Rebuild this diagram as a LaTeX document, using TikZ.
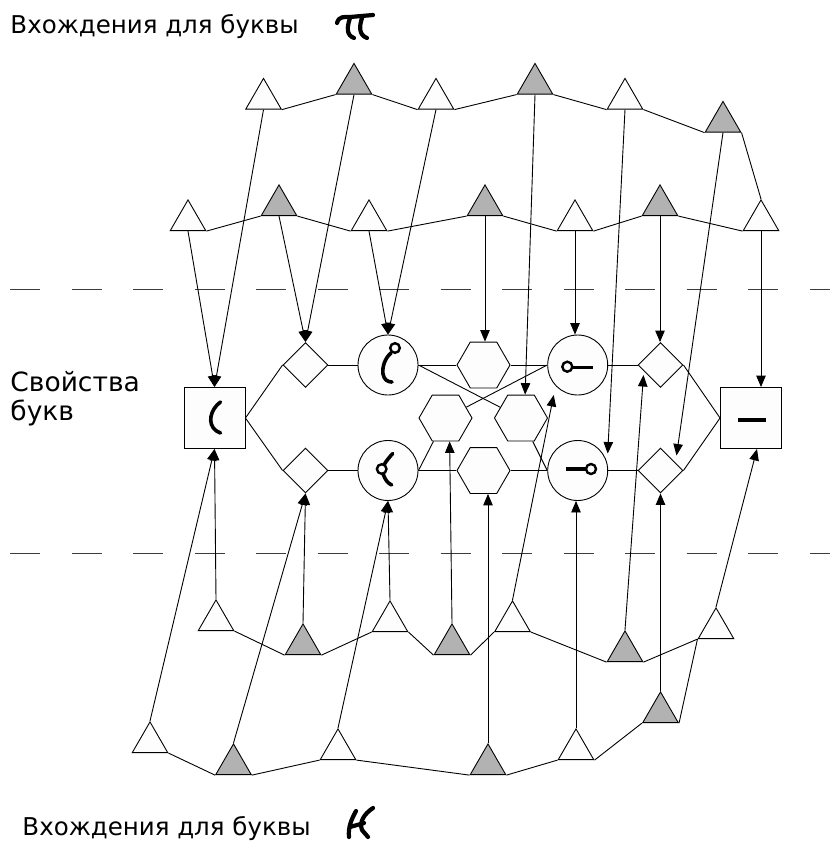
\documentclass[tikz,border=0pt]{standalone}
\usepackage{fontspec}
\setmainfont{DejaVu Sans}
\usetikzlibrary{shapes.geometric,arrows.meta,calc}
\definecolor{trigray}{RGB}{178,178,178}
\definecolor{paper}{RGB}{253,253,253}
\definecolor{dashgray}{RGB}{60,60,60}
\begin{document}
\begin{tikzpicture}[x=1pt,y=-1pt,line width=0.9pt,
  tri/.style={regular polygon,regular polygon sides=3,minimum size=41pt,inner sep=0pt,draw,anchor=corner 1},
  wtri/.style={tri,fill=paper},
  gtri/.style={tri,fill=trigray},
  sq/.style={rectangle,draw,fill=paper,minimum size=61pt,inner sep=0pt},
  dia/.style={diamond,draw,fill=paper,minimum width=45pt,minimum height=45pt,inner sep=0pt},
  circ/.style={circle,draw,fill=paper,minimum size=60pt,inner sep=0pt},
  hex/.style={regular polygon,regular polygon sides=6,draw,fill=paper,minimum size=53pt,inner sep=0pt},
  arr/.style={-{Triangle[length=11.5pt,width=9.5pt]}},
  sep/.style={draw=dashgray,line width=0.9pt,dash pattern=on 30pt off 31.5pt},
  ink/.style={line width=3.6pt,line cap=round,line join=round},
  ring/.style={line width=2.4pt,fill=paper},
  lbl/.style={inner sep=0pt,font=\fontsize{24.5}{28}\selectfont},
  side/.style={inner sep=0pt,font=\fontsize{26.5}{30}\selectfont}
]
\useasboundingbox (0,0) rectangle (830,841);

% layer separators
\coordinate (sepTL) at (10,289); \coordinate (sepTR) at (830,289);
\coordinate (sepBL) at (10,553); \coordinate (sepBR) at (830,553);
\draw[sep] (sepTL) -- (sepTR);
\draw[sep] (sepBL) -- (sepBR);

% captions
\node[lbl,anchor=base west] (topttl) at (10,33) {Вхождения для буквы};
\node[lbl,anchor=base west] (botttl) at (22,835) {Вхождения для буквы};
\node[side,anchor=base west] (prop1) at (10,391) {Свойства};
\node[side,anchor=base west] (prop2) at (10,420) {букв};

% handwritten letter samples next to the captions
\draw[ink,line width=4.2pt] (337,23) .. controls (339,16) and (344,17) .. (350,17) -- (373,15);
\draw[ink,line width=4.2pt] (350,18) .. controls (347,27) and (346,35) .. (354,38);
\draw[ink,line width=4.2pt] (362,18) .. controls (359,27) and (359,35) .. (367,38);
\draw[ink,line width=4.2pt] (356,811) .. controls (351,820) and (348,828) .. (349,837);
\draw[ink,line width=4.2pt] (350,827) -- (364,823);
\draw[ink,line width=4.2pt] (373,808) .. controls (364,814) and (359,822) .. (362,830) -- (368,837);

% property nodes
\node[sq] (lsq) at (214.5,418) {};
\node[sq] (rsq) at (751,418) {};
\node[dia] (uld) at (305.5,365) {};
\node[dia] (lld) at (305.5,470.5) {};
\node[dia] (urd) at (660.5,365) {};
\node[dia] (lrd) at (660.5,470.5) {};
\node[circ] (ulc) at (388,365) {};
\node[circ] (llc) at (388,470.5) {};
\node[circ] (urc) at (577.7,365) {};
\node[circ] (lrc) at (577.7,470.5) {};
\node[hex] (uh) at (483.5,365) {};
\node[hex] (lh) at (483.5,470.5) {};
\node[hex] (mlh) at (445.5,418) {};
\node[hex] (mrh) at (521,418) {};

% stroke pictograms inside the property nodes
\begin{scope}[shift={(lsq.center)}]
  \draw[ink] (6,-16) .. controls (-4,-9) and (-8,6) .. (2,13) -- (6,15);
\end{scope}
\begin{scope}[shift={(rsq.center)}]
  \draw[ink,line width=4pt,line cap=butt] (-13,2) -- (15,2);
\end{scope}
\begin{scope}[shift={(ulc.center)}]
  \draw[ink] (3,-12) .. controls (-3,-7) and (-6,2) .. (-5,9) .. controls (-4,15) and (0,17) .. (4,17);
  \draw[ring] (7,-17) circle[radius=4.8pt];
\end{scope}
\begin{scope}[shift={(llc.center)}]
  \draw[ink] (4.7,-17) .. controls (1,-13) and (-2,-9) .. (-3.5,-6.5);
  \draw[ink] (-4.7,4) .. controls (-3,9) and (0,13) .. (3.7,14.5);
  \draw[ring] (-6.3,-1.5) circle[radius=4.8pt];
\end{scope}
\begin{scope}[shift={(urc.center)}]
  \draw[ink,line cap=butt] (-5,2.3) -- (15,2.3);
  \draw[ring] (-10.4,1.7) circle[radius=5pt];
\end{scope}
\begin{scope}[shift={(lrc.center)}]
  \draw[ink,line cap=butt] (-12,-1.5) -- (8,-1.5);
  \draw[ring] (13.3,-1.5) circle[radius=5pt];
\end{scope}

% links between property nodes
\draw (lsq.east) -- (uld.west);
\draw (lsq.east) -- (lld.west);
\draw (uld.east) -- (ulc.west);
\draw[line width=1.5pt] (lld.east) -- (llc.west);
\draw (ulc.east) -- (uh.west);
\draw (llc.east) -- (lh.west);
\draw (uh.east) -- (urc.west);
\draw (lh.east) -- (lrc.west);
\draw (urc.east) -- (urd.west);
\draw (lrc.east) -- (lrd.west);
\draw (urd.east) -- (rsq.west);
\draw (lrd.east) -- (rsq.west);
\draw (ulc.east) -- (mrh);
\draw (mlh) -- (urc.west);
\draw (mlh) -- (llc.east);
\draw (mrh) -- (lrc.west);

% occurrences of the first letter
\node[wtri] (A1) at (263.5,77.5) {};
\node[gtri] (A2) at (354,62.5) {};
\node[wtri] (A3) at (436,77.5) {};
\node[gtri] (A4) at (535,62.5) {};
\node[wtri] (A5) at (625,77.5) {};
\node[gtri] (A6) at (723,100.5) {};
\node[wtri] (B1) at (188,199) {};
\node[gtri] (B2) at (279,184) {};
\node[wtri] (B3) at (369,199) {};
\node[gtri] (B4) at (485,184) {};
\node[wtri] (B5) at (575,199) {};
\node[gtri] (B6) at (660,184) {};
\node[wtri] (B7) at (761,199) {};

% occurrences of the second letter
\node[wtri] (C1) at (216,599) {};
\node[gtri] (C2) at (303,623) {};
\node[wtri] (C3) at (390,600) {};
\node[gtri] (C4) at (452,623) {};
\node[wtri] (C5) at (512.5,600) {};
\node[gtri] (C6) at (625,630) {};
\node[wtri] (C7) at (716,607) {};
\node[wtri] (D1) at (150,721) {};
\node[gtri] (D2) at (233.5,743) {};
\node[wtri] (D3) at (338,728) {};
\node[gtri] (D4) at (488,743) {};
\node[wtri] (D5) at (576,728) {};
\node[gtri] (D6) at (660.5,691) {};

% chains
\foreach \a/\b in {A1/A2,A2/A3,A3/A4,A4/A5,A5/A6,
                   B1/B2,B2/B3,B3/B4,B4/B5,B5/B6,B6/B7,
                   C1/C2,C2/C3,C3/C4,C4/C5,C5/C6,C6/C7,
                   D1/D2,D2/D3,D3/D4,D4/D5,D5/D6}
  \draw (\a.corner 3) -- (\b.corner 2);
\draw (A6.corner 3) -- (B7.corner 1);
\draw (D6.corner 3) -- (C7.corner 2);

% top occurrences to properties
\draw[arr] (B1.side 2) -- (lsq.north);
\draw[arr] (A1.side 2) -- (lsq.north);
\draw[arr] (B2.side 2) -- (uld.north);
\draw[arr] (A2.side 2) -- (uld.north);
\draw[arr] (B3.side 2) -- (ulc.north);
\draw[arr] (A3.side 2) -- (ulc.north);
\draw[arr] (B4.side 2) -- (B4.side 2|-uh.north);
\draw[arr] (A4.side 2) -- (mrh.80);
\draw[arr] (B5.side 2) -- (B5.side 2|-urc.north);
\draw[arr] (A5.side 2) -- ($(lrc)+(30,-17)$);
\draw[arr] (B6.side 2) -- (B6.side 2|-urd.north);
\draw[arr] (A6.side 2) -- ($(lrd)+(16,-15)$);
\draw[arr] (B7.side 2) -- (B7.side 2|-rsq.north);

% bottom occurrences to properties
\draw[arr] (D1.corner 1) -- (lsq.south);
\draw[arr] (C1.corner 1) -- (lsq.south);
\draw[arr] (D2.corner 1) -- (lld.south);
\draw[arr] (C2.corner 1) -- (lld.south);
\draw[arr] (D3.corner 1) -- (llc.south);
\draw[arr] (C3.corner 1) -- (llc.south);
\draw[arr] (C4.corner 1) -- (mlh.-80);
\draw[arr] (D4.corner 1) -- (D4.corner 1|-lh.south);
\draw[arr] (C5.corner 1) -- ($(urc)+(-24,30)$);
\draw[arr] (D5.corner 1) -- (D5.corner 1|-lrc.south);
\draw[arr] (C6.corner 1) -- ($(urd)+(-17,10)$);
\draw[arr] (D6.corner 1) -- (D6.corner 1|-lrd.south);
\draw[arr] (C7.corner 1) -- ($(rsq.south)+(6,0)$);
\end{tikzpicture}
\end{document}
